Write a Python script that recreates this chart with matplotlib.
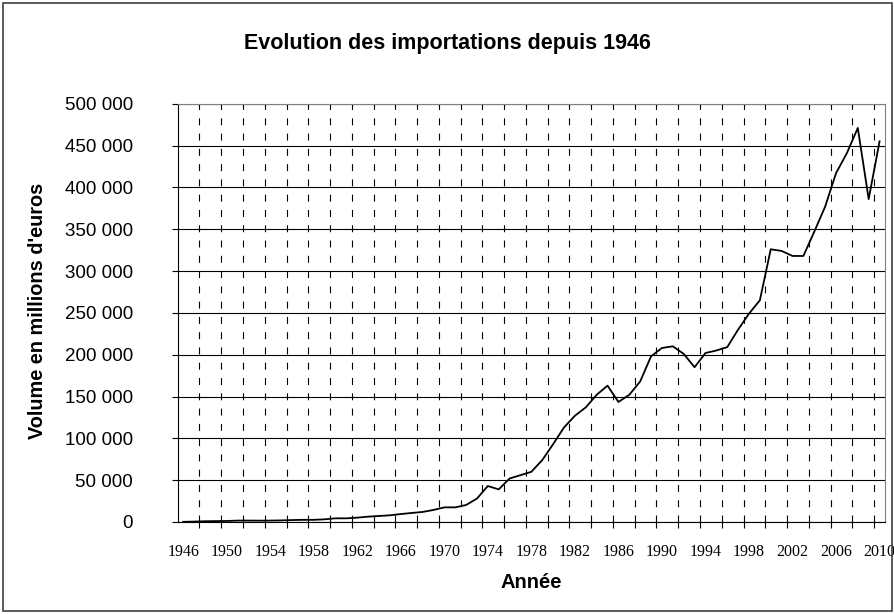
import numpy as np
import matplotlib
matplotlib.use('Agg')
import matplotlib.pyplot as plt
from matplotlib.patches import Rectangle
from matplotlib.ticker import FuncFormatter

plt.rcParams['lines.scale_dashes'] = False

years = list(range(1946, 2011))
# imports in millions of euros
imports = [200, 500, 900, 1100, 1200, 1700, 1700, 1600, 1700, 1900,
           2300, 2600, 2600, 3200, 4400, 4400, 5200, 6400, 7200, 8000,
           9500, 10800, 12000, 14400, 17500, 17500, 20300, 28000, 43000, 39000,
           52000, 56000, 60000, 74000, 93000, 113000, 127000, 137000, 152000, 163000,
           143500, 152000, 168000, 198000, 208000, 210000, 201000, 185000, 202000, 205000,
           209000, 230000, 249000, 265000, 326000, 324000, 318000, 318000, 347000, 377000,
           417000, 441000, 471000, 386000, 455000]

title = "Evolution des importations depuis 1946"
xlabel = "Année"
ylabel = "Volume en millions d'euros"

W, H = 895, 614
fig = plt.figure(figsize=(W / 100, H / 100), dpi=100)
L, R, T, B = 177.7, 885, 103.7, 522
ax = fig.add_axes([L / W, 1 - B / H, (R - L) / W, (B - T) / H])

idx = np.arange(len(years))
ax.plot(idx, imports, color='black', linewidth=1.3, zorder=3)

ax.set_xlim(-0.5, len(years) - 0.5)
ax.set_ylim(0, 500000)

# y axis
ax.set_yticks(np.arange(0, 500001, 50000))
ax.yaxis.set_major_formatter(FuncFormatter(lambda v, p: f"{int(v):,}".replace(",", " ")))
ax.tick_params(axis='y', direction='out', length=4.3, width=0.8, pad=28,
               labelsize=13.5, labelfontfamily='Liberation Sans')
ax.yaxis.grid(True, color='black', linewidth=0.8)

# x axis: gridlines every 2 years, labels every 4 years
grid_pos = np.arange(1.5, len(years) - 0.5, 2)
ax.set_xticks(grid_pos)
ax.set_xticklabels([])
ax.tick_params(axis='x', which='major', direction='out', length=4.3, width=0.8)
ax.xaxis.grid(True, which='major', color='black', linewidth=0.8, linestyle=(0, (5, 6)))
lab_idx = idx[::4]
ax.set_xticks(lab_idx, minor=True)
ax.set_xticklabels([str(years[i]) for i in lab_idx], minor=True,
                   fontfamily='Liberation Serif', fontsize=11.5)
ax.tick_params(axis='x', which='minor', length=0, pad=16)
ax.set_axisbelow(True)

for s in ['top', 'right']:
    ax.spines[s].set_color('#808080')
for s in ['left', 'bottom']:
    ax.spines[s].set_color('black')
for s in ax.spines.values():
    s.set_linewidth(0.8)

fig.text(447 / W, 1 - 44 / H, title, ha='center', va='center',
         fontsize=15.5, fontweight='bold', fontfamily='Liberation Sans')
fig.text(531 / W, 1 - 582 / H, xlabel, ha='center', va='center',
         fontsize=14.5, fontweight='bold', fontfamily='Liberation Sans')
fig.text(38 / W, 1 - 311 / H, ylabel, ha='center', va='center', rotation=90,
         fontsize=14.3, fontweight='bold', fontfamily='Liberation Sans')

fig.patches.append(Rectangle((3 / W, 3 / H), (W - 6) / W, (H - 6) / H,
                             transform=fig.transFigure, fill=False,
                             edgecolor='#404040', linewidth=1.2))

fig.savefig('out.png', dpi=100)
